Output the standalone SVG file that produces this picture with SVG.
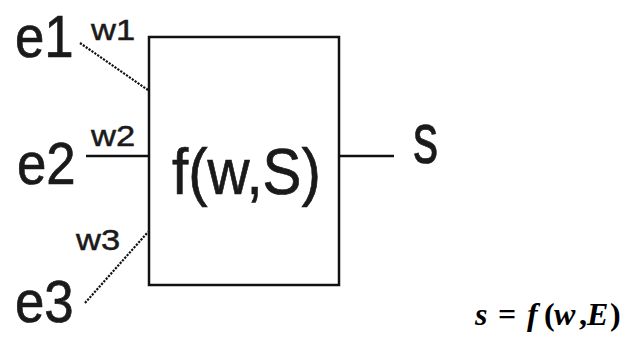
<svg xmlns="http://www.w3.org/2000/svg" width="624" height="337" viewBox="0 0 624 337">
<style>
.lbl{font-family:"Liberation Sans",Arial,sans-serif;fill:#1a1a1a;stroke:#1a1a1a;stroke-width:0.7}
.big{font-size:60px}
.sm{font-size:30px;stroke-width:0.5}
.ln{stroke:#111;stroke-width:2.5;fill:none}
.dot{stroke:#111;stroke-width:2.2;stroke-dasharray:2.2 1.3;fill:none}
.eq{font-family:"Liberation Serif","Times New Roman",serif;font-size:32px;font-weight:bold;fill:#000}
.it{font-style:italic}
</style>
<g id="connectors">
<line class="dot" x1="80" y1="43" x2="148" y2="90"/>
<line class="ln" x1="86" y1="156" x2="149" y2="156"/>
<line class="dot" x1="85" y1="303" x2="148" y2="232"/>
<line class="ln" x1="339" y1="156" x2="394" y2="156"/>
</g>
<g id="node-f">
<rect x="149" y="37" width="190" height="248" class="ln"/>
<text class="lbl" x="172" y="194" font-size="64" transform="translate(172 0) scale(0.91 1) translate(-172 0)">f(w,S)</text>
</g>
<g id="node-e1"><text class="lbl big" x="15" y="57" transform="translate(15 0) scale(0.88 1) translate(-15 0)">e1</text></g>
<g id="node-e2"><text class="lbl big" x="17" y="184" transform="translate(17 0) scale(0.88 1) translate(-17 0)">e2</text></g>
<g id="node-e3"><text class="lbl big" x="15" y="322" transform="translate(15 0) scale(0.88 1) translate(-15 0)">e3</text></g>
<g id="labels-w">
<text class="lbl sm" x="91" y="40" transform="translate(91 0) scale(1.15 1) translate(-91 0)">w1</text>
<text class="lbl sm" x="91" y="146" transform="translate(91 0) scale(1.15 1) translate(-91 0)">w2</text>
<text class="lbl sm" x="76" y="250" transform="translate(76 0) scale(1.15 1) translate(-76 0)">w3</text>
</g>
<g id="node-s"><text class="lbl" x="413" y="163" font-size="72" transform="translate(413 0) scale(0.7 1) translate(-413 0)">s</text></g>
<g id="equation">
<text class="eq" y="325"><tspan class="it" x="475">s</tspan><tspan x="498">=</tspan><tspan class="it" x="527">f</tspan><tspan x="544">(</tspan><tspan class="it" x="554">w</tspan><tspan x="579">,</tspan><tspan class="it" x="587">E</tspan><tspan x="610">)</tspan></text>
</g>
</svg>
